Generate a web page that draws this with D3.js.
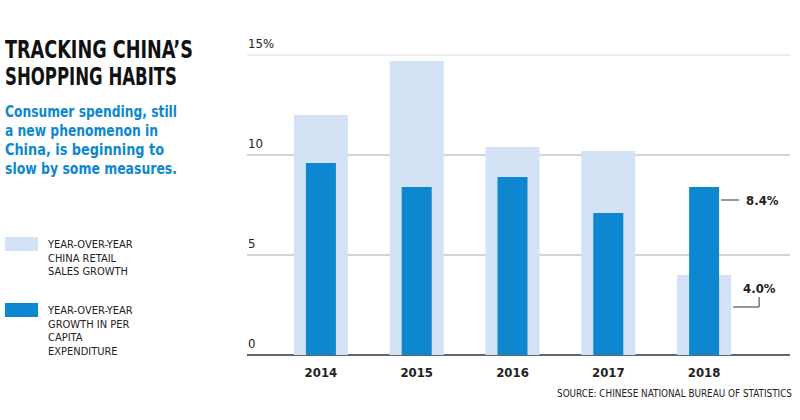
<!DOCTYPE html>
<html><head><meta charset="utf-8">
<script src="https://cdn.jsdelivr.net/npm/d3@7"></script>
<style>body{margin:0;background:#fff}</style>
</head><body><div id="chart"></div>
<script>
// chart values
const years = ["2014", "2015", "2016", "2017", "2018"];
const retailGrowth = [12.0, 14.7, 10.4, 10.2, 4.0];
const spendGrowth = [9.6, 8.4, 8.9, 7.1, 8.4];
const yTicks = [0, 5, 10, 15];

const width = 800, height = 420;
const narrow = "'DejaVu Sans Condensed','Liberation Sans Narrow',sans-serif";

const svg = d3.select("#chart").append("svg")
    .attr("width", width).attr("height", height);

const x = d3.scaleBand().domain(years).range([273, 752]).padding(0);
const y = d3.scaleLinear().domain([0, 15]).range([355, 55]);

// gridlines + tick labels
yTicks.forEach(t => {
    svg.append("line")
        .attr("x1", 247).attr("x2", 790)
        .attr("y1", y(t)).attr("y2", y(t))
        .attr("stroke", t == 0 ? "#666" : (t == 15 ? "#ddd" : "#aaa"))
        .attr("stroke-width", t == 0 ? 2 : 1.2);
    svg.append("text")
        .attr("x", 248).attr("y", y(t) - 7)
        .attr("font-family", narrow).attr("font-size", 13).attr("fill", "#222")
        .text(t == 15 ? "15%" : t);
});

const lw = 54, dw = 30;
svg.selectAll("rect.retail").data(years).enter().append("rect")
    .attr("class", "retail")
    .attr("x", d => x(d) + x.bandwidth() / 2 - lw / 2)
    .attr("width", lw)
    .attr("y", (d, i) => y(retailGrowth[i]))
    .attr("height", (d, i) => y(0) - y(retailGrowth[i]))
    .attr("fill", "#d3e2f5");
svg.selectAll("rect.spend").data(years).enter().append("rect")
    .attr("class", "spend")
    .attr("x", d => x(d) + x.bandwidth() / 2 - dw / 2)
    .attr("width", dw)
    .attr("y", (d, i) => y(spendGrowth[i]))
    .attr("height", (d, i) => y(0) - y(spendGrowth[i]))
    .attr("fill", "#0d87d0");

// year labels
svg.selectAll("text.yr").data(years).enter().append("text")
    .attr("x", d => x(d) + x.bandwidth() / 2).attr("y", 377)
    .attr("text-anchor", "middle")
    .attr("font-family", narrow).attr("font-weight", "bold").attr("font-size", 13).attr("fill", "#222")
    .text(d => d);

// callouts for 2018
const cx = x("2018") + x.bandwidth() / 2;
svg.append("line").attr("x1", cx + dw / 2 + 2).attr("x2", cx + dw / 2 + 20)
    .attr("y1", y(8.4) + 13).attr("y2", y(8.4) + 13).attr("stroke", "#333");
svg.append("text").attr("x", cx + dw / 2 + 27).attr("y", y(8.4) + 18)
    .attr("font-family", narrow).attr("font-weight", "bold").attr("font-size", 13).attr("fill", "#222")
    .text("8.4%");
svg.append("path")
    .attr("d", `M${cx + lw / 2 + 2},${y(4.0) + 32}H${cx + lw / 2 + 28}V${y(4.0) + 22}`)
    .attr("fill", "none").attr("stroke", "#333");
svg.append("text").attr("x", cx + lw / 2 + 12).attr("y", y(4.0) + 18)
    .attr("font-family", narrow).attr("font-weight", "bold").attr("font-size", 13).attr("fill", "#222")
    .text("4.0%");

// title
[["TRACKING CHINA’S", 188], ["SHOPPING HABITS", 172]].forEach((t, i) => {
    svg.append("text").attr("x", 5).attr("y", 58 + i * 27)
        .attr("font-family", narrow).attr("font-weight", "bold").attr("font-size", 24).attr("fill", "#111")
        .attr("textLength", t[1]).attr("lengthAdjust", "spacingAndGlyphs")
        .text(t[0]);
});
[["Consumer spending, still", 172], ["a new phenomenon in", 153], ["China, is beginning to", 159], ["slow by some measures.", 172]].forEach((t, i) => {
    svg.append("text").attr("x", 5).attr("y", 117 + i * 19)
        .attr("font-family", narrow).attr("font-weight", "bold").attr("font-size", 15).attr("fill", "#0d87d0")
        .attr("textLength", t[1]).attr("lengthAdjust", "spacingAndGlyphs")
        .text(t[0]);
});

// legend
const legend = [
    {color: "#d3e2f5", lines: ["YEAR-OVER-YEAR", "CHINA RETAIL", "SALES GROWTH"], y: 237},
    {color: "#0d87d0", lines: ["YEAR-OVER-YEAR", "GROWTH IN PER", "CAPITA", "EXPENDITURE"], y: 303}
];
legend.forEach(l => {
    svg.append("rect").attr("x", 5).attr("y", l.y).attr("width", 33).attr("height", 14).attr("fill", l.color);
    l.lines.forEach((t, i) => {
        svg.append("text").attr("x", 48).attr("y", l.y + 11 + i * 13.5)
            .attr("font-family", narrow).attr("font-size", 11).attr("fill", "#222")
            .text(t);
    });
});

svg.append("text").attr("x", 792).attr("y", 397).attr("text-anchor", "end")
    .attr("font-family", narrow).attr("font-size", 11).attr("fill", "#222")
    .attr("textLength", 235).attr("lengthAdjust", "spacingAndGlyphs")
    .text("SOURCE: CHINESE NATIONAL BUREAU OF STATISTICS");
</script></body></html>
